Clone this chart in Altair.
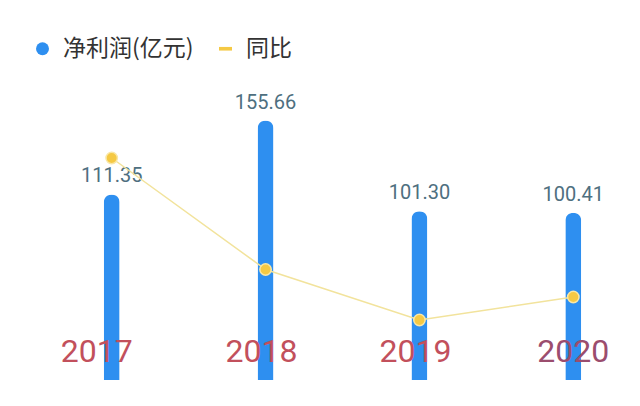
import altair as alt
import pandas as pd

years = ["2017", "2018", "2019", "2020"]
net_profit = [111.35, 155.66, 101.30, 100.41]
yoy = [204.7, 39.8, -34.9, -0.9]
series_names = ["净利润(亿元)", "同比"]

df = pd.DataFrame({"year": years, "profit": net_profit, "yoy": yoy})

BLUE = "#2e8ff0"
YELLOW = "#f5c944"
LINE = "#f2e39c"
LABEL = "#4e6f80"

base = alt.Chart(df)

x = alt.X(
    "year:N",
    sort=years,
    scale=alt.Scale(paddingInner=0.9, paddingOuter=0),
    axis=alt.Axis(
        title=None, domain=False, ticks=False, grid=False, labelAngle=0,
        labelFont="Roboto", labelFontSize=32,
        labelColor={"condition": {"test": "datum.value == '2020'", "value": "#9b4d6e"},
                    "value": "#c2505c"},
        labelOffset={"condition": [{"test": "datum.value == '2017'", "value": -15},
                                   {"test": "datum.value == '2020'", "value": 0}],
                     "value": -4},
        labelBaseline="alphabetic", labelPadding=-19, zindex=1,
    ),
)

ybar = alt.Y("profit:Q", scale=alt.Scale(domain=[0, 180], nice=False, zero=True), axis=None)
yline = alt.Y("yoy:Q", scale=alt.Scale(domain=[-123.7, 320.1], nice=False, zero=False), axis=None)

bars = base.mark_bar(size=16, color=BLUE, cornerRadiusTopLeft=8, cornerRadiusTopRight=8).encode(x=x, y=ybar)
labels = base.mark_text(dy=-12, baseline="alphabetic", font="Roboto", fontSize=20, color=LABEL).encode(
    x=x, y=ybar, text=alt.Text("profit:Q", format=".2f")
)

line = base.mark_line(color=LINE, strokeWidth=1.5).encode(x=x, y=yline)
points = base.mark_point(filled=True, size=130, fill=YELLOW, stroke="#f9e7a6", strokeWidth=1.5, opacity=1).encode(x=x, y=yline)

leg = dict(
    orient="none", legendX=-73, legendY=-43, direction="horizontal", title=None,
    labelFont="Noto Sans CJK SC", labelFontSize=23, labelColor="#333333",
    symbolSize=169, symbolOpacity=1, symbolStrokeWidth=0, labelOffset=9,
    columnPadding=20, padding=0,
)
legend_layer = base.transform_calculate(series="'同比'").mark_point(opacity=0, filled=True).encode(
    x=x, y=yline,
    color=alt.Color("series:N", scale=alt.Scale(domain=series_names, range=[BLUE, YELLOW]), legend=alt.Legend(**leg)),
    shape=alt.Shape("series:N", scale=alt.Scale(domain=series_names, range=["circle", "M-1,-0.28H1V0.28H-1Z"]), legend=alt.Legend(**leg)),
)

left = alt.layer(bars, labels)
right = alt.layer(line, points, legend_layer)

chart = alt.layer(left, right).resolve_scale(y="independent").properties(
    width=477, height=300,
    autosize=alt.AutoSizeParams(type="none"),
    padding={"left": 96, "top": 72, "right": 50, "bottom": 16},
    background="white",
).configure_view(stroke=None)

chart.save("out.html", embed_options={"renderer": "svg", "actions": False})
